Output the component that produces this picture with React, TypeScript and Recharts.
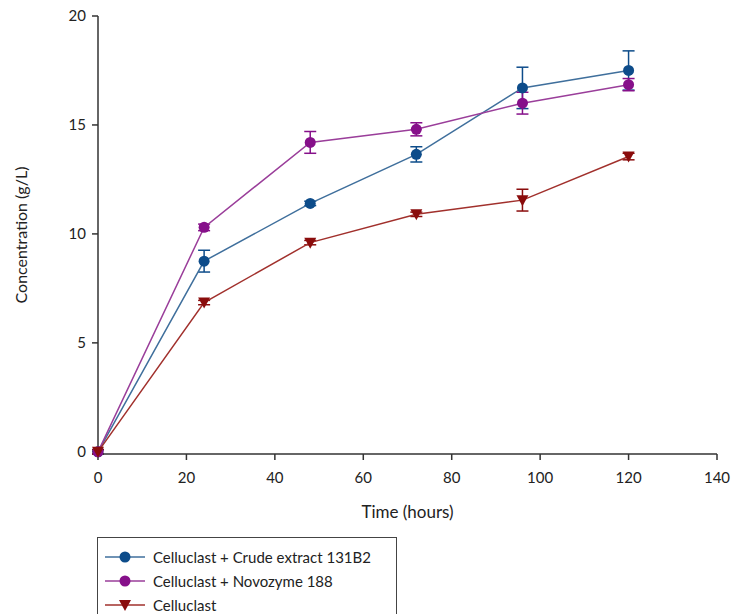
import React from 'react';
import { LineChart, Line, XAxis, YAxis, ErrorBar } from 'recharts';

// sampling times (hours)
const hours = [0, 24, 48, 72, 96, 120];

// reducing sugar concentration (g/L) and standard deviations per enzyme mix
const crudeExtract = [0, 8.75, 11.4, 13.65, 16.7, 17.5];
const crudeExtractSd = [0.1, 0.5, 0.1, 0.35, 0.95, 0.9];
const novozyme = [0, 10.3, 14.2, 14.8, 16.0, 16.85];
const novozymeSd = [0.1, 0.15, 0.5, 0.3, 0.5, 0.28];
const celluclast = [0, 6.85, 9.6, 10.9, 11.55, 13.55];
const celluclastSd = [0.1, 0.1, 0.1, 0.1, 0.5, 0.15];

const xTicks = [0, 20, 40, 60, 80, 100, 120, 140];
const yTicks = [0, 5, 10, 15, 20];

const font = 'Lato, "Open Sans", sans-serif';

const series = [
  { key: 'crude', name: 'Celluclast + Crude extract 131B2', line: '#3f6f9c', fill: '#0d4c8a', shape: 'circle' },
  { key: 'novo', name: 'Celluclast + Novozyme 188', line: '#9a3e9a', fill: '#86108a', shape: 'circle' },
  { key: 'cell', name: 'Celluclast', line: '#a1302c', fill: '#8a0c0c', shape: 'triangle' },
];

const data = hours.map((h, i) => ({
  time: h,
  crude: crudeExtract[i],
  crudeSd: crudeExtractSd[i],
  novo: novozyme[i],
  novoSd: novozymeSd[i],
  cell: celluclast[i],
  cellSd: celluclastSd[i],
}));

function Marker({ cx, cy, fill, shape }: any) {
  if (cx == null || cy == null) return null;
  if (shape === 'triangle') {
    return <path d={`M${cx - 6},${cy - 5} L${cx + 6},${cy - 5} L${cx},${cy + 6} Z`} fill={fill} />;
  }
  return <circle cx={cx} cy={cy} r={5.5} fill={fill} />;
}

function LegendIcon({ s }: any) {
  return (
    <svg width={44} height={14} style={{ marginRight: 6 }}>
      <line x1={2} y1={7} x2={42} y2={7} stroke={s.line} strokeWidth={1.5} />
      <Marker cx={22} cy={7} fill={s.fill} shape={s.shape} />
    </svg>
  );
}

export default function App() {
  return (
    <div style={{ position: 'absolute', left: 0, top: 0, width: 732, height: 614, background: '#fff', fontFamily: font, overflow: 'hidden' }}>
      <LineChart width={732} height={530} data={data} margin={{ top: 16, right: 15, left: 0, bottom: 0 }}>
        <XAxis
          dataKey="time"
          type="number"
          domain={[0, 140]}
          ticks={xTicks}
          stroke="#333"
          strokeWidth={1.5}
          tickSize={6}
          tickMargin={12}
          tick={{ fill: '#222', fontSize: 15, fontFamily: font }}
          height={76}
          label={{ value: 'Time (hours)', position: 'insideBottom', offset: 12, fill: '#222', fontSize: 17, fontFamily: font }}
        />
        <YAxis
          domain={[0, 20]}
          ticks={yTicks}
          stroke="#333"
          strokeWidth={1.5}
          tickSize={6}
          tickMargin={6}
          width={98}
          tick={{ fill: '#222', fontSize: 15, fontFamily: font }}
          label={{ value: 'Concentration (g/L)', angle: -90, position: 'insideLeft', offset: 21, fill: '#222', fontSize: 16, fontFamily: font, style: { textAnchor: 'middle' } }}
        />
        {series.map((s) => (
          <Line
            key={s.key}
            dataKey={s.key}
            name={s.name}
            stroke={s.line}
            strokeWidth={1.5}
            isAnimationActive={false}
            dot={(p: any) => <Marker key={`${s.key}-${p.index}`} cx={p.cx} cy={p.cy} fill={s.fill} shape={s.shape} />}
            activeDot={false}
          >
            <ErrorBar dataKey={`${s.key}Sd`} direction="y" width={6} stroke={s.fill} strokeWidth={1.5} />
          </Line>
        ))}
      </LineChart>
      <div
        style={{
          position: 'absolute',
          left: 97,
          top: 537,
          width: 300,
          height: 90,
          border: '1px solid #444',
          boxSizing: 'border-box',
          padding: '7px 0 0 5px',
          fontSize: 15,
          color: '#222',
        }}
      >
        {series.map((s) => (
          <div key={s.key} style={{ display: 'flex', alignItems: 'center', height: 24 }}>
            <LegendIcon s={s} />
            <span>{s.name}</span>
          </div>
        ))}
      </div>
    </div>
  );
}
